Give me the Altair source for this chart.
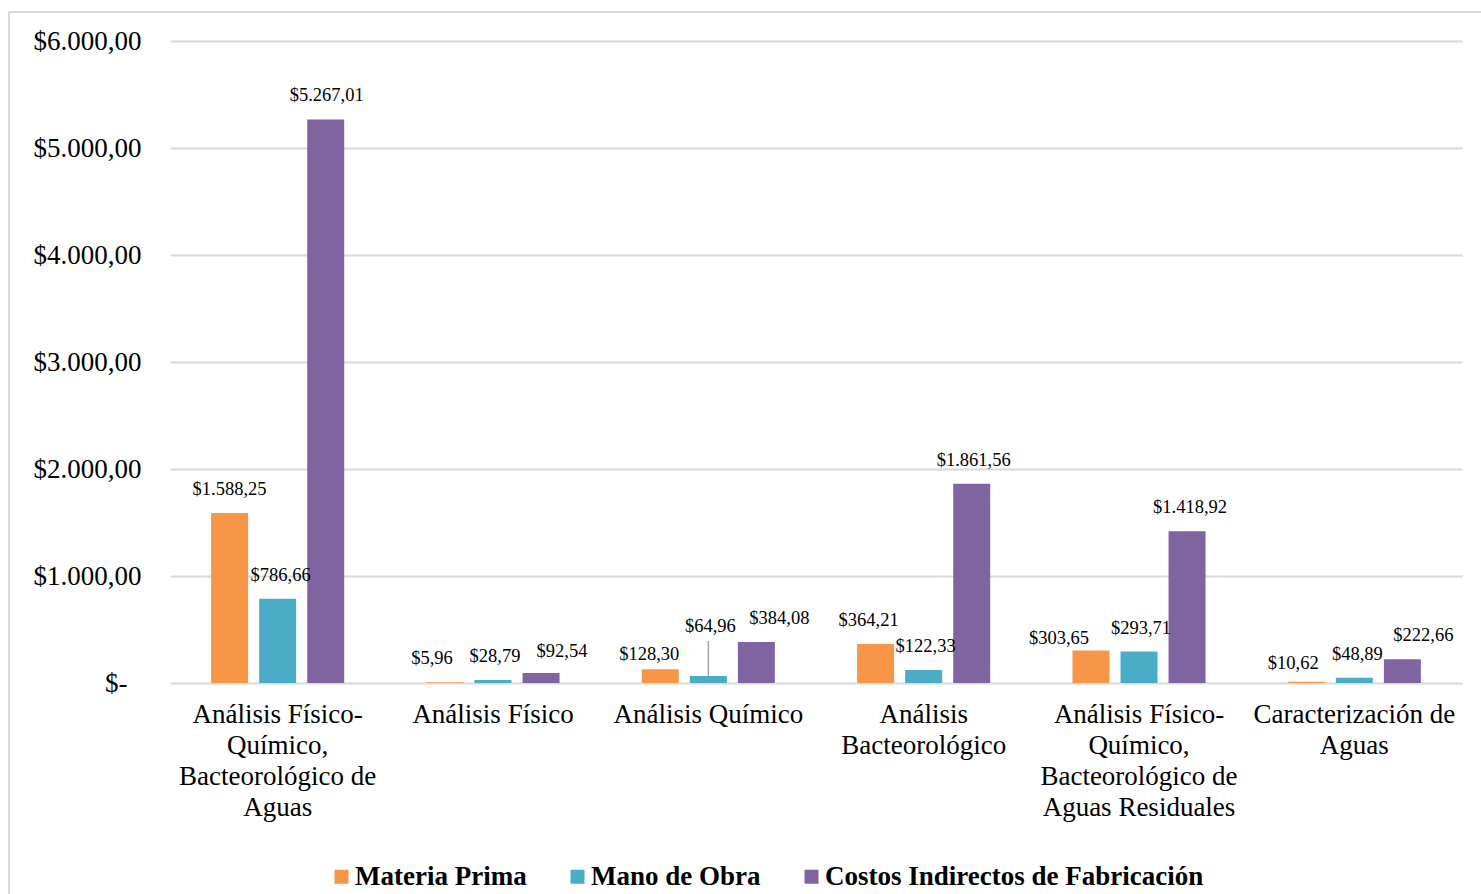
import altair as alt
import pandas as pd

# ---- data ----
category_lines = [
    ["Análisis Físico-", "Químico,", "Bacteorológico de", "Aguas"],
    ["Análisis Físico"],
    ["Análisis Químico"],
    ["Análisis", "Bacteorológico"],
    ["Análisis Físico-", "Químico,", "Bacteorológico de", "Aguas Residuales"],
    ["Caracterización de", "Aguas"],
]
series = ["Materia Prima", "Mano de Obra", "Costos Indirectos de Fabricación"]
materia_prima = [1588.25, 5.96, 128.30, 364.21, 303.65, 10.62]
mano_de_obra = [786.66, 28.79, 64.96, 122.33, 293.71, 48.89]
costos_indirectos = [5267.01, 92.54, 384.08, 1861.56, 1418.92, 222.66]
colors = ["#F79646", "#4BACC6", "#8064A2"]
y_ticks = [0, 1000, 2000, 3000, 4000, 5000, 6000]

# data-label nudges (pixels), as placed in the original chart
label_dx = [
    [0, -13, -11, -7, -32, -13],
    [3, 2, 2, 2, 2, 3],
    [1, 21, 23, 2, 3, 21],
]
label_dy = [
    [0, 0, 9, 0, 11, 5],
    [0, 0, -26, 0, 0, 0],
    [0, 2, 0, 0, 0, 0],
]

FONT = "Liberation Serif"


def fmt(v):
    s = f"{v:,.2f}"
    s = s.replace(",", "#").replace(".", ",").replace("#", ".")
    return "$" + s


categories = ["|".join(lines) for lines in category_lines]
rows = []
for si, (name, vals) in enumerate(zip(series, [materia_prima, mano_de_obra, costos_indirectos])):
    for ci, (cat, v) in enumerate(zip(categories, vals)):
        rows.append({"id": si * 10 + ci, "cat": cat, "serie": name, "valor": v,
                     "etiqueta": fmt(v)})
df = pd.DataFrame(rows)

x_enc = alt.X(
    "cat:N",
    sort=categories,
    scale=alt.Scale(paddingInner=0.382, paddingOuter=0.191),
    axis=alt.Axis(
        title=None,
        labelExpr="split(datum.label, '|')",
        labelFont=FONT,
        labelFontSize=27,
        labelColor="#000000",
        labelPadding=18,
        labelLineHeight=31,
        labelAngle=0,
        labelLimit=400,
        labelOverlap=False,
        ticks=False,
        domain=False,
        grid=False,
    ),
)
xoff_enc = alt.XOffset(
    "serie:N", sort=series, scale=alt.Scale(paddingInner=0.23, paddingOuter=0)
)
y_enc = alt.Y(
    "valor:Q",
    scale=alt.Scale(domain=[0, 6000], nice=False),
    axis=alt.Axis(
        title=None,
        values=y_ticks,
        labelExpr=(
            "datum.value == 0 ? '$-' : "
            "'$' + replace(replace(replace(format(datum.value, ',.2f'), ',', '#'), '.', ','), '#', '.')"
        ),
        labelFont=FONT,
        labelFontSize=27,
        labelColor="#000000",
        labelPadding={"condition": {"test": "datum.value == 0", "value": 43}, "value": 29},
        ticks=False,
        domain=False,
        grid=True,
        gridColor="#d9d9d9",
        gridWidth=2,
    ),
)

bars = alt.Chart(df).mark_bar().encode(
    x=x_enc,
    xOffset=xoff_enc,
    y=y_enc,
    color=alt.Color(
        "serie:N",
        sort=series,
        scale=alt.Scale(domain=series, range=colors),
        legend=alt.Legend(
            title=None,
            orient="none",
            legendX=158,
            legendY=822,
            direction="horizontal",
            symbolType="square",
            symbolSize=196,
            symbolStrokeWidth=0,
            labelFont=FONT,
            labelFontSize=27,
            labelFontWeight="bold",
            labelColor="#000000",
            labelOffset=0,
            labelLimit=600,
            columnPadding=37,
        ),
    ),
)

label_layers = []
for si in range(len(series)):
    for ci in range(len(categories)):
        rid = si * 10 + ci
        label_layers.append(
            alt.Chart(df)
            .transform_filter(alt.datum.id == rid)
            .mark_text(
                baseline="bottom",
                dx=label_dx[si][ci],
                dy=-14 + label_dy[si][ci],
                font=FONT,
                fontSize=18.5,
                color="#000000",
            )
            .encode(
                x=alt.X("cat:N", sort=categories),
                xOffset=alt.XOffset("serie:N", sort=series),
                y="valor:Q",
                text="etiqueta:N",
            )
        )

# leader line for the raised "$64,96" label
leader = (
    alt.Chart(df)
    .transform_filter(alt.datum.id == 12)
    .mark_rule(color="#a6a6a6", strokeWidth=1.5)
    .encode(
        x=alt.X("cat:N", sort=categories),
        xOffset=alt.XOffset("serie:N", sort=series),
        y="valor:Q",
        y2=alt.value(600),
    )
)

frame_df = pd.DataFrame({"k": [0]})
frame_left = alt.Chart(frame_df).mark_rule(color="#d9d9d9", strokeWidth=2).encode(
    x=alt.value(-161), y=alt.value(-29), y2=alt.value(900)
)
frame_top = alt.Chart(frame_df).mark_rule(color="#d9d9d9", strokeWidth=2).encode(
    x=alt.value(-161), x2=alt.value(1320), y=alt.value(-29)
)

chart = (
    alt.layer(frame_left, frame_top, bars, leader, *label_layers)
    .properties(
        width=1292,
        height=642,
        autosize=alt.AutoSizeParams(type="none"),
        padding={"left": 170, "top": 41, "right": 19, "bottom": 211},
        background="#ffffff",
    )
    .configure_view(stroke=None)
)

chart.save("out.html", embed_options={"renderer": "svg", "actions": False})
